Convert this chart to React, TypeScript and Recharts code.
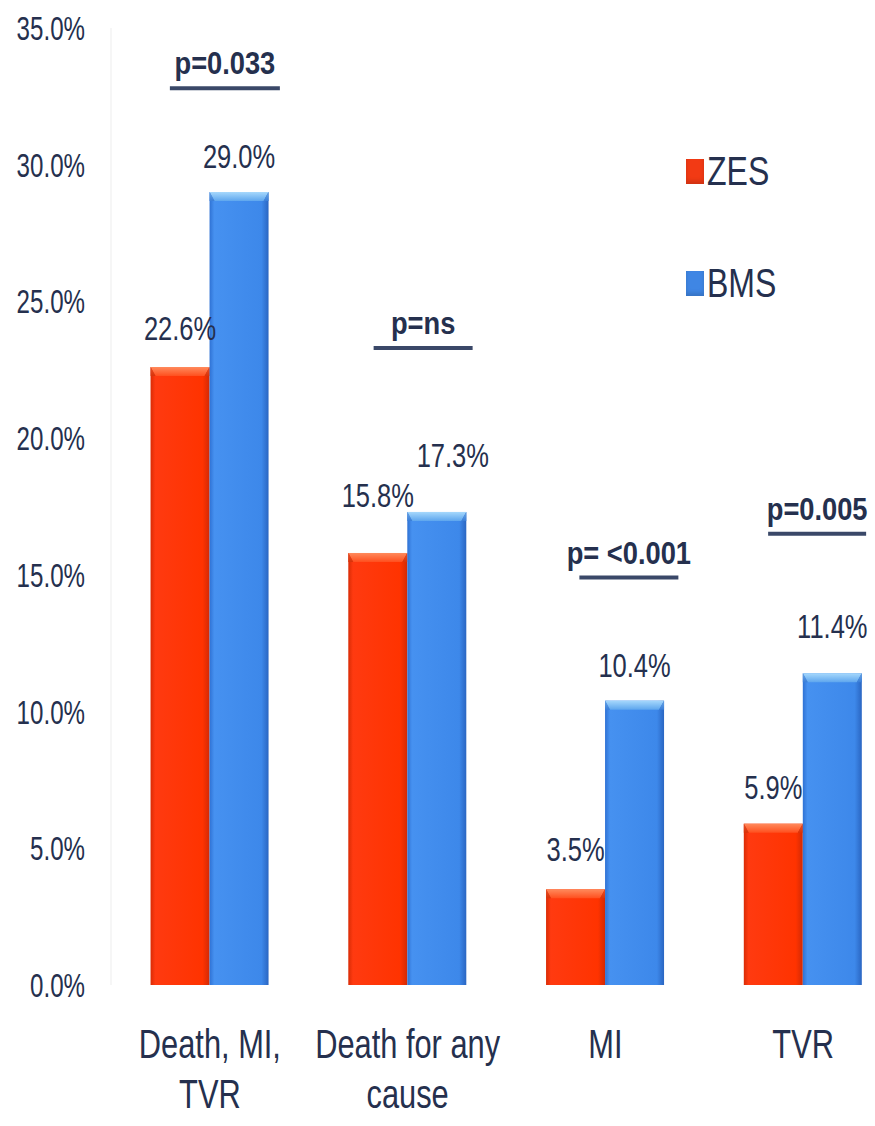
import React from "react";
import { BarChart, Bar, XAxis, YAxis, LabelList, Legend, ReferenceDot } from "recharts";

// Outcome categories ("\n" marks the line break under the axis)
const categories = ["Death, MI,\nTVR", "Death for any\ncause", "MI", "TVR"];
const seriesNames = ["ZES", "BMS"];
const zesRates = [22.6, 15.8, 3.5, 5.9];
const bmsRates = [29.0, 17.3, 10.4, 11.4];
const yTicks = [0, 5, 10, 15, 20, 25, 30, 35];

// significance notes over each group
const pValues = ["p=0.033", "p=ns", "p= <0.001", "p=0.005"];
const pLevels = [32.8, 23.3, 14.9, 16.5];

// layout tweaks: bracket ends (px from group centre), label lift above bar tops
const pReach = [
  [-40, 70],
  [-34, 65],
  [-26, 73],
  [-35, 63],
];
const zesLift = [27, 46, 28, 25];
const bmsLift = [24, 45, 24, 35];
const bmsShift = [0, 16, 0, 0];

const INK = "#25304e";
const FONT = "'Liberation Sans', Arial, sans-serif";

const rows = categories.map((name, i) => ({ name, zes: zesRates[i], bms: bmsRates[i] }));

// condensed text: slide font squeezed horizontally
function Squeezed({ x, y, size, sx, bold, anchor = "middle", children }: any) {
  return (
    <text
      transform={`translate(${x} ${y}) scale(${sx} 1)`}
      textAnchor={anchor}
      fontSize={size}
      fontWeight={bold ? 700 : 400}
      fontFamily={FONT}
      fill={INK}
    >
      {children}
    </text>
  );
}

function BevelBar({ x, y, width, height, tone }: any) {
  if (!height || height <= 0) return null;
  const cap = Math.min(9, height);
  const inset = 5;
  return (
    <g>
      <rect x={x} y={y} width={width} height={height} fill={`url(#${tone}-body)`} />
      <polygon
        points={`${x},${y} ${x + width},${y} ${x + width - inset},${y + cap} ${x + inset},${y + cap}`}
        fill={`url(#${tone}-cap)`}
      />
      <polygon points={`${x},${y} ${x + inset},${y + cap} ${x},${y + cap}`} fill={`url(#${tone}-side)`} />
      <polygon
        points={`${x + width},${y} ${x + width - inset},${y + cap} ${x + width},${y + cap}`}
        fill={`url(#${tone}-side)`}
      />
    </g>
  );
}

function ValueTag({ x, y, width, value, index, lift, shift }: any) {
  return (
    <Squeezed x={x + width / 2 + (shift ? shift[index] : 0)} y={y - lift[index]} size={34} sx={0.75}>
      {`${Number(value).toFixed(1)}%`}
    </Squeezed>
  );
}

function YTick({ x, y, payload }: any) {
  return (
    <Squeezed x={x - 26} y={y + 12} size={34} sx={0.71} anchor="end">
      {`${Number(payload.value).toFixed(1)}%`}
    </Squeezed>
  );
}

function XTick({ x, y, payload }: any) {
  const lines = String(payload.value).split("\n");
  return (
    <g>
      {lines.map((line, i) => (
        <Squeezed key={i} x={x} y={y + 73 + i * 50} size={40} sx={0.77}>
          {line}
        </Squeezed>
      ))}
    </g>
  );
}

// underline bracket with its p-value, anchored on the group centre
function PBracket({ cx, cy, text, reach }: any) {
  if (cx == null || cy == null) return null;
  const x1 = cx + reach[0];
  const x2 = cx + reach[1];
  return (
    <g>
      <line x1={x1} x2={x2} y1={cy} y2={cy} stroke="#3a4868" strokeWidth={4} />
      <Squeezed x={(x1 + x2) / 2} y={cy - 14} size={31} sx={0.88} bold>
        {text}
      </Squeezed>
    </g>
  );
}

function LegendBox({ payload }: any) {
  const items = [...(payload || [])].sort(
    (a: any, b: any) => seriesNames.indexOf(a.value) - seriesNames.indexOf(b.value)
  );
  return (
    <div style={{ fontFamily: FONT, color: INK }}>
      {items.map((item: any) => (
        <div key={item.value} style={{ display: "flex", alignItems: "center", height: 112 }}>
          <span
            style={{
              width: 18,
              height: 25,
              background: item.color,
              boxShadow: "inset 0 -3px 4px rgba(0,0,0,0.15)",
            }}
          />
          <span
            style={{
              fontSize: 40,
              lineHeight: "40px",
              marginLeft: 3,
              display: "inline-block",
              transform: "scaleX(0.8)",
              transformOrigin: "left center",
            }}
          >
            {item.value}
          </span>
        </div>
      ))}
    </div>
  );
}

export default function App() {
  return (
    <div
      style={{
        position: "absolute",
        left: 0,
        top: 0,
        width: 875,
        height: 1126,
        overflow: "hidden",
        background: "#ffffff",
      }}
    >
      <BarChart
        width={902}
        height={1126}
        data={rows}
        margin={{ top: 28, right: 0, bottom: 0, left: 0 }}
        barCategoryGap="20%"
        barGap={0}
      >
        <defs>
          <linearGradient id="red-body" x1="0" y1="0" x2="1" y2="0">
            <stop offset="0%" stopColor="#d92c06" />
            <stop offset="8%" stopColor="#ff3a10" />
            <stop offset="88%" stopColor="#ff3300" />
            <stop offset="100%" stopColor="#d22a05" />
          </linearGradient>
          <linearGradient id="red-cap" x1="0" y1="0" x2="0" y2="1">
            <stop offset="0%" stopColor="#ff8a5c" />
            <stop offset="100%" stopColor="#ff4f1e" />
          </linearGradient>
          <linearGradient id="red-side" x1="0" y1="0" x2="0" y2="1">
            <stop offset="0%" stopColor="#e6512a" />
            <stop offset="100%" stopColor="#d8330a" />
          </linearGradient>
          <linearGradient id="blue-body" x1="0" y1="0" x2="1" y2="0">
            <stop offset="0%" stopColor="#2f72d4" />
            <stop offset="8%" stopColor="#4691f0" />
            <stop offset="88%" stopColor="#3d88ea" />
            <stop offset="100%" stopColor="#2a66c2" />
          </linearGradient>
          <linearGradient id="blue-cap" x1="0" y1="0" x2="0" y2="1">
            <stop offset="0%" stopColor="#a6d8fc" />
            <stop offset="100%" stopColor="#5ea6ee" />
          </linearGradient>
          <linearGradient id="blue-side" x1="0" y1="0" x2="0" y2="1">
            <stop offset="0%" stopColor="#6aa6e6" />
            <stop offset="100%" stopColor="#3a7ed8" />
          </linearGradient>
        </defs>
        <XAxis
          dataKey="name"
          height={141}
          axisLine={false}
          tickLine={false}
          tickSize={0}
          tickMargin={0}
          interval={0}
          tick={<XTick />}
        />
        <YAxis
          width={111}
          domain={[0, 35]}
          ticks={yTicks}
          interval={0}
          axisLine={{ stroke: "#ededed" }}
          tickLine={false}
          tickSize={0}
          tickMargin={0}
          tick={<YTick />}
        />
        <Legend
          layout="horizontal"
          align="center"
          verticalAlign="middle"
          wrapperStyle={{ left: 686, top: 115, width: 140 }}
          content={<LegendBox />}
        />
        <Bar
          dataKey="zes"
          name="ZES"
          fill="#f23a14"
          isAnimationActive={false}
          shape={(p: any) => <BevelBar {...p} tone="red" />}
        >
          <LabelList dataKey="zes" content={(p: any) => <ValueTag {...p} lift={zesLift} />} />
        </Bar>
        <Bar
          dataKey="bms"
          name="BMS"
          fill="#3f86e4"
          isAnimationActive={false}
          shape={(p: any) => <BevelBar {...p} tone="blue" />}
        >
          <LabelList dataKey="bms" content={(p: any) => <ValueTag {...p} lift={bmsLift} shift={bmsShift} />} />
        </Bar>
        {pValues.map((text, i) => (
          <ReferenceDot
            key={text}
            x={categories[i]}
            y={pLevels[i]}
            ifOverflow="visible"
            shape={(p: any) => <PBracket cx={p.cx} cy={p.cy} text={text} reach={pReach[i]} />}
          />
        ))}
      </BarChart>
    </div>
  );
}
